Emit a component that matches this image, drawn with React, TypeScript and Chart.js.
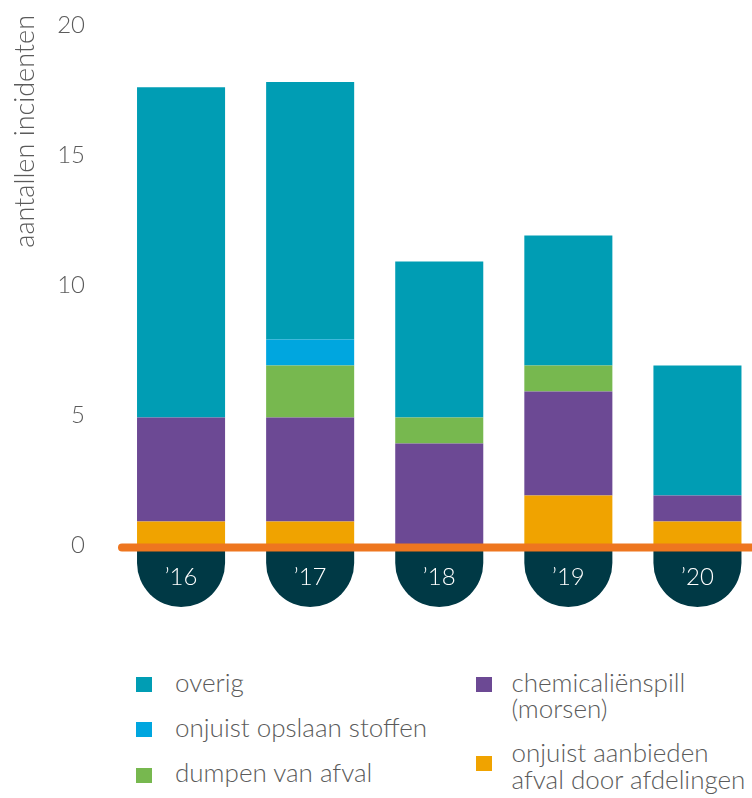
import React, { useEffect, useRef } from "react";
import { Chart, registerables } from "chart.js";

Chart.register(...registerables);

const categories = ["’16", "’17", "’18", "’19", "’20"];
const onjuistAanbieden = [1, 1, 0, 2, 1];
const chemicalienspill = [4, 4, 4, 4, 1];
const dumpenVanAfval = [0, 2, 1, 1, 0];
const onjuistOpslaan = [0, 1, 0, 0, 0];
const overig = [12.7, 9.9, 6, 5, 5];
const yTicks = [0, 5, 10, 15, 20];
const yTitle = "aantallen incidenten";

const FONT = "Lato, 'Noto Sans', sans-serif";
const TEXT_GRAY = "#5b5b5b";

const C_OVERIG = "#009db4";
const C_OPSLAAN = "#00a6df";
const C_DUMPEN = "#77b84f";
const C_CHEM = "#6c4994";
const C_AANB = "#f0a300";
const C_LINE = "#ee761f";
const C_TAB = "#003945";

const legendItems = [
  { label: ["overig"], color: C_OVERIG, left: 136, top: 677, textLeft: 175, baselines: [691.7] },
  { label: ["onjuist opslaan stoffen"], color: C_OPSLAAN, left: 136, top: 722, textLeft: 175, baselines: [737.3] },
  { label: ["dumpen van afval"], color: C_DUMPEN, left: 136, top: 767.5, textLeft: 175, baselines: [781.7] },
  { label: ["chemicaliënspill", "(morsen)"], color: C_CHEM, left: 476, top: 677, textLeft: 511.5, baselines: [691.7, 717.8] },
  { label: ["onjuist aanbieden", "afval door afdelingen"], color: C_AANB, left: 476, top: 756, textLeft: 511.5, baselines: [761.5, 788.5] },
];

const decorPlugin = {
  id: "decor",
  afterDatasetsDraw(chart: any) {
    const ctx = chart.ctx;
    const y = chart.scales.y;
    const zeroY = y.getPixelForValue(0);
    const meta = chart.getDatasetMeta(0);
    ctx.save();
    // tabs under each bar
    meta.data.forEach((bar: any, i: number) => {
      const w = bar.width;
      const r = w / 2;
      const left = bar.x - r;
      const straight = 15.5;
      ctx.beginPath();
      ctx.moveTo(left, zeroY);
      ctx.lineTo(left + w, zeroY);
      ctx.lineTo(left + w, zeroY + straight);
      ctx.arc(bar.x, zeroY + straight, r, 0, Math.PI, false);
      ctx.closePath();
      ctx.fillStyle = C_TAB;
      ctx.fill();
      ctx.fillStyle = "#ffffff";
      ctx.font = `300 24px ${FONT}`;
      ctx.textAlign = "center";
      ctx.textBaseline = "middle";
      ctx.fillText(categories[i], bar.x, zeroY + 30);
    });
    // zero line
    ctx.beginPath();
    ctx.lineWidth = 8;
    ctx.lineCap = "round";
    ctx.strokeStyle = C_LINE;
    ctx.moveTo(122, zeroY);
    ctx.lineTo(chart.width + 10, zeroY);
    ctx.stroke();
    // y-axis title
    ctx.translate(25, 15);
    ctx.rotate(-Math.PI / 2);
    ctx.fillStyle = TEXT_GRAY;
    ctx.font = `300 27px ${FONT}`;
    ctx.textAlign = "right";
    ctx.textBaseline = "middle";
    ctx.fillText(yTitle, 0, 0);
    ctx.restore();
  },
};

export default function App() {
  const ref = useRef<HTMLCanvasElement>(null);
  useEffect(() => {
    if (!ref.current) return;
    const mk = (label: string, data: number[], color: string) => ({
      label,
      data,
      backgroundColor: color,
      borderWidth: 0,
      barPercentage: 0.682,
      categoryPercentage: 1,
    });
    const chart = new Chart(ref.current, {
      type: "bar",
      data: {
        labels: categories,
        datasets: [
          mk("onjuist aanbieden afval door afdelingen", onjuistAanbieden, C_AANB),
          mk("chemicaliënspill (morsen)", chemicalienspill, C_CHEM),
          mk("dumpen van afval", dumpenVanAfval, C_DUMPEN),
          mk("onjuist opslaan stoffen", onjuistOpslaan, C_OPSLAAN),
          mk("overig", overig, C_OVERIG),
        ],
      },
      options: {
        responsive: false,
        animation: false,
        devicePixelRatio: 1,
        layout: { padding: { top: 27.5, bottom: 72.5, left: 0, right: 0 } },
        plugins: { legend: { display: false }, tooltip: { enabled: false } },
        scales: {
          x: { stacked: true, display: false },
          y: {
            stacked: true,
            min: 0,
            max: 20,
            afterFit: (s: any) => {
              s.width = 116.5;
              s.paddingTop = 0;
              s.paddingBottom = 0;
            },
            afterBuildTicks: (s: any) => {
              s.ticks = yTicks.map((v) => ({ value: v }));
            },
            ticks: {
              stepSize: 5,
              padding: 31.5,
              labelOffset: -2,
              color: TEXT_GRAY,
              font: { family: FONT, size: 24, weight: "300" as any },
            },
            grid: { display: false, drawTicks: false },
            border: { display: false },
          },
        },
      },
      plugins: [decorPlugin],
    });
    return () => chart.destroy();
  }, []);

  return (
    <div
      style={{
        position: "fixed",
        left: 0,
        top: 0,
        width: 752,
        height: 798,
        overflow: "hidden",
        background: "#ffffff",
        fontFamily: FONT,
      }}
    >
      <canvas ref={ref} width={762} height={620} style={{ position: "absolute", left: 0, top: 0 }} />
      {legendItems.map((it, i) => (
        <React.Fragment key={i}>
          <div
            style={{
              position: "absolute",
              left: it.left,
              top: it.top,
              width: 16,
              height: 15,
              background: it.color,
            }}
          />
          {it.label.map((line, j) => (
            <div
              key={j}
              style={{
                position: "absolute",
                left: it.textLeft,
                top: it.baselines[j] - 26,
                fontSize: 26,
                lineHeight: "32px",
                fontWeight: 300,
                color: TEXT_GRAY,
                whiteSpace: "nowrap",
              }}
            >
              {line}
            </div>
          ))}
        </React.Fragment>
      ))}
    </div>
  );
}
